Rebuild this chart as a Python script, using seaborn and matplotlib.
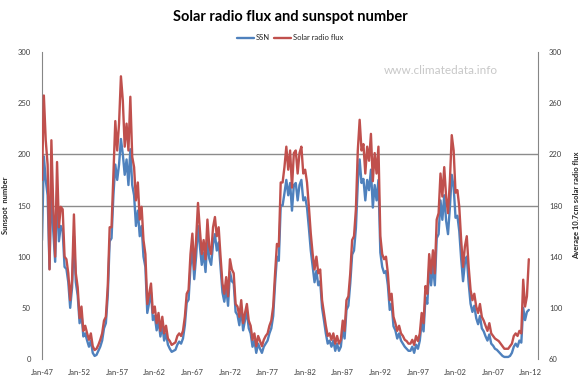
import numpy as np
import pandas as pd
import matplotlib
matplotlib.use("Agg")
import matplotlib.pyplot as plt
import matplotlib.dates as mdates
import seaborn as sns
from matplotlib.lines import Line2D

# ---------------- data (quarterly, Jan-1947 .. Oct-2011) ----------------
ssn = [
    116, 198, 175, 160,   88, 170, 125, 95,   165, 115, 130, 125,   90, 88, 75, 50,
    70, 120, 75, 62,      35, 45, 22, 25,   18, 12, 18, 6,        3, 4, 8, 12,
    18, 30, 35, 62,       115, 118, 160, 190, 175, 190, 215, 200,  180, 195, 170, 205,
    170, 160, 130, 145,   120, 130, 100, 90, 45, 55, 65, 38,       42, 28, 38, 22,
    33, 18, 25, 14,       10, 7, 8, 9,      14, 17, 15, 20,       33, 55, 58, 90,
    108, 78, 100, 130,    110, 92, 104, 85, 118, 98, 92, 112,     122, 106, 114, 90,
    65, 56, 70, 52,       85, 76, 74, 46,   43, 33, 50, 28,       38, 46, 30, 25,
    12, 18, 6, 15,        10, 6, 12, 15,    18, 25, 30, 42,       74, 100, 96, 150,
    150, 162, 175, 160,   172, 145, 170, 172, 155, 170, 175, 155, 158, 148, 128, 106,
    90, 75, 86, 72,       76, 50, 38, 25,   15, 18, 12, 18,       8, 15, 8, 12,
    30, 20, 48, 52,       74, 102, 106, 128, 172, 195, 172, 176,  155, 175, 165, 185,
    148, 170, 155, 175,   104, 90, 84, 86,  72, 48, 54, 32,       28, 20, 25, 18,
    15, 12, 10, 8,        8, 12, 6, 14,     10, 18, 36, 27,       60, 54, 90, 72,
    92, 72, 118, 122,     155, 136, 160, 135, 122, 148, 180, 168, 138, 140, 125, 98,
    76, 94, 100, 74,      54, 46, 52, 40,   34, 42, 30, 27,       22, 18, 24, 15,
    13, 10, 9, 7,         5, 3, 2, 2,       2, 3, 6, 12,          15, 12, 18, 16,
    50, 38, 46, 48,
]
flux = [
    200, 266, 231, 212,   130, 231, 179, 140, 214, 163, 179, 177,  140, 138, 127, 106,
    122, 173, 127, 116,   92, 101, 82, 86,  80, 75, 80, 70,        67, 68, 71, 75,
    80, 90, 93, 117,      163, 163, 205, 246, 223, 244, 281, 262,  226, 244, 223, 265,
    218, 210, 184, 198,   169, 179, 153, 142, 103, 111, 119, 96,   101, 88, 96, 82,
    93, 80, 86, 76,       74, 71, 72, 73,   78, 80, 78, 82,       93, 111, 114, 142,
    158, 130, 153, 182,   161, 142, 153, 138, 169, 148, 142, 163,  171, 156, 163, 140,
    119, 111, 124, 109,   138, 130, 127, 103, 101, 93, 106, 88,    96, 103, 90, 86,
    75, 80, 70, 78,       74, 70, 75, 78,   80, 86, 90, 101,      127, 150, 148, 198,
    198, 210, 226, 208,   223, 194, 221, 223, 205, 221, 226, 205,  208, 198, 179, 158,
    142, 130, 140, 127,   130, 106, 96, 86, 78, 80, 75, 80,       72, 78, 72, 75,
    90, 82, 106, 109,     127, 153, 156, 177, 223, 247, 223, 228,  205, 226, 215, 236,
    199, 221, 205, 226,   156, 142, 138, 140, 127, 106, 111, 93,   88, 82, 86, 80,
    78, 75, 74, 72,       72, 75, 71, 78,   74, 80, 96, 88,       117, 111, 142, 127,
    145, 127, 169, 174,   205, 187, 210, 187, 174, 199, 235, 223,  190, 192, 179, 153,
    132, 148, 156, 132,   114, 106, 111, 101, 96, 103, 93, 90,     86, 82, 88, 80,
    78, 76, 75, 74,       72, 70, 68, 68,   68, 70, 72, 78,       80, 78, 82, 80,
    122, 101, 109, 138,
]
dates = pd.date_range("1947-01-01", periods=len(ssn), freq="QS")
df = pd.DataFrame({"date": dates, "SSN": ssn, "Solar radio flux": flux})

x_tick_labels = ["Jan-47", "Jan-52", "Jan-57", "Jan-62", "Jan-67", "Jan-72", "Jan-77",
                 "Jan-82", "Jan-87", "Jan-92", "Jan-97", "Jan-02", "Jan-07", "Jan-12"]
x_tick_dates = pd.to_datetime([f"{y}-01-01" for y in range(1947, 2013, 5)])
left_ticks = [0, 50, 100, 150, 200, 250, 300]
right_ticks = [60, 100, 140, 180, 220, 260, 300]
grid_levels = [150, 200]

title = "Solar radio flux and sunspot number"
ylabel_left = "Sunspot  number"
ylabel_right = "Average 10.7cm solar radio flux"
watermark = "www.climatedata.info"

# ---------------- style ----------------
sns.set_style("white")
plt.rcParams["font.family"] = ["Lato", "DejaVu Sans"]

blue = "#4F81BD"
red = "#C0504D"
axis_grey = "#868686"

fig = plt.figure(figsize=(5.8, 3.8), dpi=100)
ax = fig.add_axes([42 / 580, 1 - 359 / 380, (538 - 42) / 580, (359 - 52) / 380])
ax2 = ax.twinx()

for lv in grid_levels:
    ax.axhline(lv, color="#8c8c8c", lw=1.0, zorder=0)

sns.lineplot(data=df, x="date", y="SSN", ax=ax, color=blue, lw=1.7, legend=False)
sns.lineplot(data=df, x="date", y="Solar radio flux", ax=ax2, color=red, lw=1.7, legend=False)

ax.set_ylim(left_ticks[0], left_ticks[-1])
ax2.set_ylim(right_ticks[0], right_ticks[-1])
ax.set_yticks(left_ticks)
ax2.set_yticks(right_ticks)
ax.set_xlim(pd.Timestamp("1947-01-01"), pd.Timestamp("2012-12-20"))

ax.set_xticks(mdates.date2num(x_tick_dates))
ax.set_xticklabels(x_tick_labels)
ax.xaxis.set_minor_locator(mdates.YearLocator(1, month=1, day=1))

for a in (ax, ax2):
    for s in ("top", "bottom"):
        a.spines[s].set_visible(False)
ax.spines["left"].set_color(axis_grey)
ax.spines["right"].set_visible(False)
ax2.spines["left"].set_visible(False)
ax2.spines["right"].set_color(axis_grey)

ax.tick_params(axis="y", labelsize=5.5, colors="#404040", length=0, pad=8)
ax2.tick_params(axis="y", labelsize=5.5, colors="#404040", length=0, pad=8)
ax.tick_params(axis="x", which="major", labelsize=5.5, labelcolor="#404040", color=axis_grey,
               length=3, width=0.6, direction="out", pad=4)
ax.tick_params(axis="x", which="minor", length=2, width=0.6, color=axis_grey, direction="out")

ax.set_xlabel("")
ax.set_ylabel(ylabel_left, fontsize=5.5, fontweight="bold", labelpad=6)
ax2.set_ylabel(ylabel_right, fontsize=5.5, fontweight="bold", labelpad=8)

fig.text(0.5, 1 - 17 / 380, title, ha="center", va="center",
         fontsize=10.5, fontweight="bold", color="black")

handles = [Line2D([], [], color=blue, lw=1.7), Line2D([], [], color=red, lw=1.7)]
fig.legend(handles, ["SSN", "Solar radio flux"], loc="center",
           bbox_to_anchor=(0.5, 1 - 38 / 380), ncol=2, frameon=False,
           fontsize=5.5, handlelength=2.2, handletextpad=0.2, columnspacing=0.6)

fig.text(441 / 580, 1 - 70 / 380, watermark, ha="center", va="center",
         fontsize=8.5, color="#c8c8c8")

fig.savefig("out.png", dpi=100)
